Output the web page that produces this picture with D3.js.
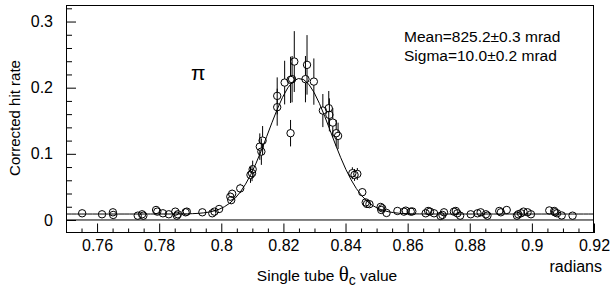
<!DOCTYPE html>
<html><head><meta charset="utf-8">
<script src="https://cdn.jsdelivr.net/npm/d3@7"></script>
<style>body{margin:0;background:#fff}svg{display:block}text{font-family:"Liberation Sans",Arial,sans-serif}</style>
</head><body>
<svg id="c" width="611" height="293"></svg>
<script>
// data (radians, corrected hit rate, error)
const thetaValues = [0.7552,0.7616,0.7651,0.7652,0.7731,0.7745,0.7749,0.7790,0.7794,0.7812,0.7831,0.7852,0.7857,0.7860,0.7885,0.7889,0.7939,0.7971,0.7978,0.7993,
 0.8029,0.8035,0.8032,0.8061,0.8094,0.8099,0.8101,0.8124,0.8129,0.8133,0.8180,0.8180,0.8204,0.8223,0.8228,0.8235,0.8223,0.8271,0.8276,0.8298,
 0.8327,0.8346,0.8348,0.8359,0.8370,0.8376,0.8422,0.8429,0.8438,0.8454,0.8465,0.8469,0.8477,0.8513,0.8515,0.8518,0.8532,
 0.8567,0.8588,0.8594,0.8610,0.8615,0.8658,0.8666,0.8672,0.8685,0.8706,0.8717,0.8712,0.8749,0.8755,0.8760,0.8769,0.8803,0.8825,0.8835,0.8852,0.8857,
 0.8895,0.8900,0.8919,0.8952,0.8956,0.8965,0.8973,0.8986,0.8997,0.9056,0.9072,0.9074,0.9081,0.9096,0.9131];
const rateValues = [0.0101,0.0086,0.0116,0.0076,0.0065,0.0086,0.0065,0.0151,0.0126,0.0101,0.0086,0.0126,0.0065,0.0086,0.0116,0.0126,0.0116,0.0101,0.0126,0.0166,
 0.0352,0.0396,0.0300,0.0477,0.0681,0.0707,0.0767,0.1109,0.1033,0.1200,0.1876,0.1705,0.2077,0.2118,0.2129,0.2395,0.1312,0.2129,0.2345,0.2092,
 0.1654,0.1690,0.1589,0.1472,0.1312,0.1271,0.0707,0.0681,0.0696,0.0420,0.0265,0.0242,0.0239,0.0197,0.0151,0.0177,0.0106,
 0.0136,0.0126,0.0141,0.0126,0.0129,0.0101,0.0136,0.0126,0.0101,0.0061,0.0116,0.0076,0.0126,0.0136,0.0101,0.0065,0.0086,0.0101,0.0116,0.0086,0.0065,
 0.0136,0.0116,0.0151,0.0065,0.0086,0.0101,0.0126,0.0116,0.0086,0.0144,0.0136,0.0116,0.0101,0.0068,0.0065];
const rateErrors = [0.003,0.003,0.003,0.003,0.003,0.003,0.003,0.003,0.003,0.003,0.003,0.003,0.003,0.003,0.003,0.003,0.003,0.003,0.003,0.004,
 0.006,0.006,0.006,0.007,0.012,0.012,0.013,0.020,0.020,0.022,0.028,0.028,0.033,0.035,0.035,0.046,0.020,0.035,0.045,0.035,
 0.025,0.026,0.025,0.022,0.020,0.020,0.009,0.009,0.009,0.006,0.005,0.005,0.005,0.004,0.004,0.004,0.003,
 0.003,0.003,0.003,0.003,0.003,0.003,0.003,0.003,0.003,0.003,0.003,0.003,0.003,0.003,0.003,0.003,0.003,0.003,0.003,0.003,0.003,
 0.003,0.003,0.003,0.003,0.003,0.003,0.003,0.003,0.003,0.003,0.003,0.003,0.003,0.003,0.003];
// fit parameters (Gaussian + constant)
const fitMean = 0.8252, fitSigma = 0.0100, fitAmp = 0.205, fitConst = 0.009;
const xMajorTicks = [0.76,0.78,0.8,0.82,0.84,0.86,0.88,0.9,0.92];
const yMajorTicks = [0,0.1,0.2,0.3];
const statLines = ["Mean=825.2\u00b10.3 mrad","Sigma=10.0\u00b10.2 mrad"];

const L=66, R=594, T=5, B=233;
const svg=d3.select("#c");
const x=d3.scaleLinear().domain([0.75,0.92]).range([L,R]);
const y=d3.scaleLinear().domain([-0.0197,0.325]).range([B,T]);

// minor ticks
const xMinor=d3.range(0.75,0.9201,0.005).map(v=>+v.toFixed(3)).filter(v=>!xMajorTicks.some(m=>Math.abs(m-v)<1e-6));
const yMinor=d3.range(-0.02,0.3201,0.02).map(v=>+v.toFixed(3)).filter(v=>!yMajorTicks.some(m=>Math.abs(m-v)<1e-6) && v>-0.0197);

const gx=svg.append("g").attr("transform",`translate(0,${B})`);
gx.call(d3.axisBottom(x).tickValues(xMajorTicks).tickSize(-9.5).tickPadding(6.5).tickFormat(d=>String(+d.toFixed(2))));
const gxm=svg.append("g").attr("transform",`translate(0,${B})`);
gxm.call(d3.axisBottom(x).tickValues(xMinor).tickSize(-4.5).tickFormat(""));
const gy=svg.append("g").attr("transform",`translate(${L},0)`);
gy.call(d3.axisLeft(y).tickValues(yMajorTicks).tickSize(-10).tickPadding(13).tickFormat(d=>d===0?"0":String(d)));
const gym=svg.append("g").attr("transform",`translate(${L},0)`);
gym.call(d3.axisLeft(y).tickValues(yMinor).tickSize(-6).tickFormat(""));
svg.selectAll(".domain").remove();
svg.selectAll(".tick line").attr("stroke","#000").attr("stroke-width",1);
svg.selectAll(".tick text").attr("font-size",16).attr("fill","#000").attr("font-family","Liberation Sans, Arial, sans-serif");

// frame
svg.append("rect").attr("x",L+0.5).attr("y",T+0.5).attr("width",R-L-1).attr("height",B-T-1)
  .attr("fill","none").attr("stroke","#000").attr("stroke-width",1);
// zero line
svg.append("line").attr("x1",L).attr("x2",R).attr("y1",y(0)).attr("y2",y(0)).attr("stroke","#000").attr("stroke-width",1);

// fit curve
const fitX=d3.range(0,101).map(i=>0.75+i*0.0017);
const line=d3.line().x(d=>x(d)).y(d=>y(fitConst+fitAmp*Math.exp(-0.5*Math.pow((d-fitMean)/fitSigma,2))));
svg.append("path").datum(fitX).attr("d",line).attr("fill","none").attr("stroke","#000").attr("stroke-width",1);

// points
const pts=thetaValues.map((t,i)=>({t,v:rateValues[i],e:rateErrors[i]}));
const r=3.7;
const g=svg.append("g");
pts.forEach(p=>{
  const cx=x(p.t), cy=y(p.v), top=y(p.v+p.e), bot=y(p.v-p.e);
  if(cy-r>top) g.append("line").attr("x1",cx).attr("x2",cx).attr("y1",top).attr("y2",cy-r).attr("stroke","#000");
  if(bot>cy+r) g.append("line").attr("x1",cx).attr("x2",cx).attr("y1",cy+r).attr("y2",bot).attr("stroke","#000");
  g.append("circle").attr("cx",cx).attr("cy",cy).attr("r",r).attr("fill","none").attr("stroke","#000").attr("stroke-width",1);
});

// labels
svg.append("text").attr("transform","translate(20,118) rotate(-90)").attr("text-anchor","middle")
  .attr("font-size",15).text("Corrected hit rate");
const xl=svg.append("text").attr("x",327).attr("y",281).attr("text-anchor","middle").attr("font-size",15.5);
xl.append("tspan").text("Single tube ");
xl.append("tspan").attr("font-family","Liberation Serif, serif").attr("font-size",21).text("\u03b8");
xl.append("tspan").attr("font-size",14).attr("dy",4).text("c");
xl.append("tspan").attr("dy",-4).text(" value");
svg.append("text").attr("x",602).attr("y",271.7).attr("text-anchor","end").attr("font-size",16).text("radians");
svg.append("text").attr("x",191).attr("y",80).attr("font-family","Liberation Serif, serif").attr("font-size",21).text("\u03c0");
statLines.forEach((s,i)=>svg.append("text").attr("x",404).attr("y",42+i*19).attr("font-size",15.5).text(s));
</script>
</body></html>
